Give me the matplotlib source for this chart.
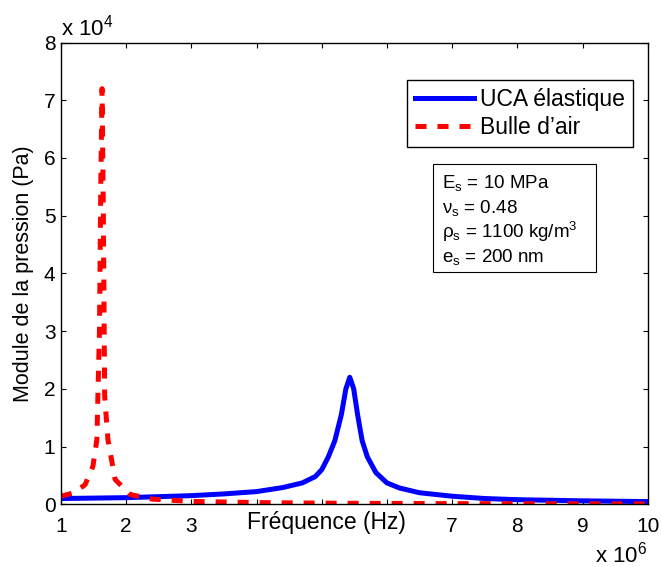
import matplotlib
matplotlib.use('Agg')
import matplotlib.pyplot as plt
from matplotlib.patches import Rectangle

plt.rcParams['font.family'] = ['Liberation Sans', 'DejaVu Sans']
plt.rcParams['mathtext.fontset'] = 'custom'
plt.rcParams['mathtext.rm'] = 'Liberation Sans'
plt.rcParams['mathtext.it'] = 'Liberation Sans:italic'

# UCA elastique (frequency in 1e6 Hz, pressure in 1e4 Pa)
uca_freq = [1.0, 2.0, 3.0, 3.5, 4.0, 4.4, 4.7, 4.9, 5.0, 5.1, 5.2, 5.3, 5.37, 5.43,
            5.49, 5.55, 5.62, 5.7, 5.83, 6.0, 6.2, 6.5, 7.0, 7.5, 8.0, 9.0, 10.0]
uca_p = [0.10, 0.115, 0.15, 0.18, 0.22, 0.29, 0.37, 0.48, 0.60, 0.82, 1.10, 1.55, 2.0, 2.20,
         2.0, 1.55, 1.10, 0.82, 0.55, 0.37, 0.28, 0.20, 0.14, 0.10, 0.08, 0.06, 0.047]

# Bulle d'air
air_freq = [1.0, 1.2, 1.37, 1.49, 1.55, 1.59, 1.61, 1.63, 1.65, 1.67, 1.72,
            1.83, 2.06, 2.4, 3.0, 4.0, 5.0, 6.0, 7.0, 8.0, 9.0, 10.0]
air_p = [0.14, 0.2, 0.34, 0.66, 1.12, 3.0, 5.5, 7.2, 5.0, 1.87, 1.12,
         0.43, 0.17, 0.09, 0.05, 0.03, 0.02, 0.015, 0.012, 0.01, 0.008, 0.006]

xticks = list(range(1, 11))
# 4, 5 and 6 sit under the axis label in the original
xtick_labels = ['1', '2', '3', '', '', '', '7', '8', '9', '10']
yticks = list(range(0, 9))

labels = ['UCA élastique', 'Bulle d\u2019air']
params = ['E$_\\mathregular{s}$ = 10 MPa',
          '\u03bd$_\\mathregular{s}$ = 0.48',
          '\u03c1$_\\mathregular{s}$ = 1100 kg/m$^\\mathregular{3}$',
          'e$_\\mathregular{s}$ = 200 nm']

fig = plt.figure(figsize=(6.61, 5.67), dpi=100)
ax = fig.add_axes([61 / 661, (567 - 504.3) / 567, 586.7 / 661, 461.8 / 567])

ax.plot(uca_freq, uca_p, color='#0000ff', lw=3.6, label=labels[0])
ax.plot(air_freq, air_p, color='#ff0000', lw=3.6, dashes=(2.2, 2.2), label=labels[1])

ax.set_xlim(1, 10)
ax.set_ylim(0, 8)
ax.set_xticks(xticks)
ax.set_xticklabels(xtick_labels)
ax.set_yticks(yticks)
ax.tick_params(direction='in', top=True, right=True, length=3.6, width=0.8,
               labelsize=15, colors='black')
ax.tick_params(axis='x', pad=9)
ax.tick_params(axis='y', pad=4)
for s in ax.spines.values():
    s.set_linewidth(1.0)

ax.set_xlabel('Fréquence (Hz)', fontsize=16.5, va='center')
ax.xaxis.set_label_coords((326 - 61) / 586.7, (504.3 - 522) / 461.8)
ax.set_ylabel('Module de la pression (Pa)', fontsize=15.5, labelpad=7)

ax.text(0, 1.016, 'x 10$^\\mathregular{4}$', transform=ax.transAxes,
        fontsize=16, ha='left', va='baseline')
ax.text(1.0, -0.127, 'x 10$^\\mathregular{6}$', transform=ax.transAxes,
        fontsize=16, ha='right', va='baseline')

leg = ax.legend(loc='upper right', bbox_to_anchor=(0.975, 0.919), borderaxespad=0,
                fontsize=16.5, fancybox=False, framealpha=1, edgecolor='black',
                handlelength=2.6, handletextpad=0.25, borderpad=0.35, labelspacing=0.22)
leg.get_frame().set_linewidth(1.0)

# parameter box
x0, x1 = (433 - 61) / 586.7, (596 - 61) / 586.7
y0, y1 = (504.3 - 272) / 461.8, (504.3 - 164) / 461.8
ax.add_patch(Rectangle((x0, y0), x1 - x0, y1 - y0, transform=ax.transAxes,
                       fill=False, edgecolor='black', lw=0.8))
for i, line in enumerate(params):
    yb = (504.3 - (188.3 + 24.7 * i)) / 461.8
    ax.text((442 - 61) / 586.7, yb, line, transform=ax.transAxes,
            fontsize=13.5, ha='left', va='baseline')

fig.savefig('out.png', dpi=100)
